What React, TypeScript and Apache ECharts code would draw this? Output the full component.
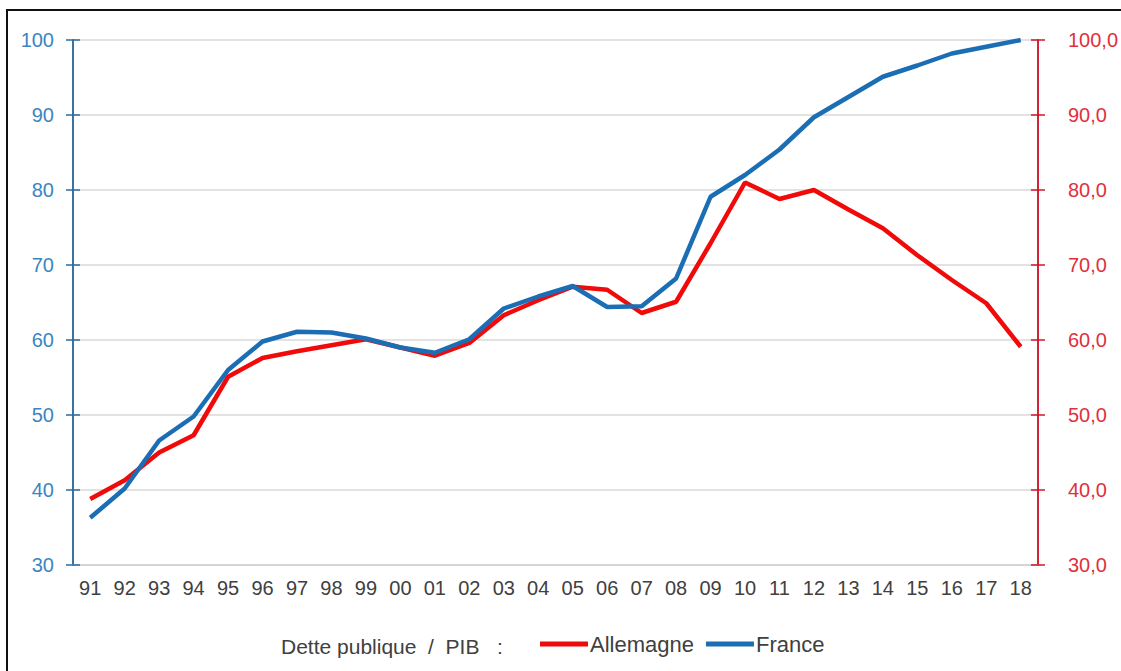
import React, { useEffect, useRef } from "react";
import * as echarts from "echarts";

const years = ["91","92","93","94","95","96","97","98","99","00","01","02","03","04","05","06","07","08","09","10","11","12","13","14","15","16","17","18"];
const france = [36.3, 40.2, 46.6, 49.8, 56.0, 59.8, 61.1, 61.0, 60.2, 59.0, 58.3, 60.1, 64.2, 65.8, 67.2, 64.4, 64.5, 68.2, 79.1, 82.0, 85.4, 89.7, 92.4, 95.1, 96.6, 98.2, 99.1, 100.0];
const allemagne = [38.8, 41.3, 45.0, 47.3, 55.1, 57.6, 58.5, 59.3, 60.1, 59.0, 57.9, 59.6, 63.3, 65.3, 67.1, 66.7, 63.6, 65.1, 72.9, 81.0, 78.8, 80.0, 77.4, 74.9, 71.3, 68.0, 64.9, 59.1];
const yMin = 30;
const yMax = 100;
const yStep = 10;
const legendTitle = "Dette publique  /  PIB   :";

const FONT = "'Liberation Sans', Arial, sans-serif";
const BLUE_LINE = "#1B6DB4";
const RED_LINE = "#F00A0A";
const BLUE_AXIS = "#2C6A9C";
const RED_AXIS = "#D0142A";

export default function App() {
  const ref = useRef<HTMLDivElement>(null);
  useEffect(() => {
    if (!ref.current) return;
    const chart = echarts.init(ref.current, null, { renderer: "svg" });
    const baseY = {
      type: "value",
      min: yMin,
      max: yMax,
      interval: yStep,
    };
    chart.setOption({
      animation: false,
      backgroundColor: "#ffffff",
      grid: { left: 73, right: 76, top: 40, bottom: 106 },
      graphic: [
        {
          type: "rect",
          shape: { x: 7, y: 10, width: 1300, height: 800 },
          style: { fill: "none", stroke: "#111", lineWidth: 2 },
          silent: true,
          z: 100,
        },
        {
          type: "text",
          left: 281,
          top: 636,
          style: { text: legendTitle, font: `21px ${FONT}`, fill: "#404040" },
        },
      ],
      legend: {
        left: 535,
        top: 628,
        itemWidth: 48,
        itemHeight: 5,
        itemGap: 12,
        icon: "rect",
        data: ["Allemagne", "France"],
        textStyle: { fontFamily: FONT, fontSize: 22, color: "#404040", padding: [0, 0, 0, -3] },
      },
      xAxis: {
        type: "category",
        data: years,
        boundaryGap: true,
        axisLine: { lineStyle: { color: "#D0D0D0", width: 1.5 } },
        axisTick: { inside: true, length: 4, lineStyle: { color: "#C8C8C8" } },
        axisLabel: { fontFamily: FONT, fontSize: 20, color: "#404040", margin: 13 },
      },
      yAxis: [
        {
          ...baseY,
          position: "left",
          axisLine: { show: true, lineStyle: { color: BLUE_AXIS, width: 1.5 } },
          axisTick: { show: true, length: 7, lineStyle: { color: BLUE_AXIS, width: 1.5 } },
          axisLabel: { fontFamily: FONT, fontSize: 20, color: "#3A86C2", margin: 19 },
          splitLine: { show: true, lineStyle: { color: "#D8D8D8", width: 1.5 } },
        },
        {
          ...baseY,
          position: "right",
          axisLine: { show: true, lineStyle: { color: RED_AXIS, width: 1.5 } },
          axisTick: { show: true, length: 7, lineStyle: { color: RED_AXIS, width: 1.5 } },
          axisLabel: {
            fontFamily: FONT,
            fontSize: 20,
            color: "#E0303C",
            margin: 30,
            formatter: (v: number) => v.toFixed(1).replace(".", ","),
          },
          splitLine: { show: false },
        },
        {
          ...baseY,
          position: "left",
          axisLine: { show: true, lineStyle: { color: BLUE_AXIS, width: 1.5 } },
          axisTick: { show: true, inside: true, length: 7, lineStyle: { color: BLUE_AXIS, width: 1.5 } },
          axisLabel: { show: false },
          splitLine: { show: false },
        },
        {
          ...baseY,
          position: "right",
          axisLine: { show: true, lineStyle: { color: RED_AXIS, width: 1.5 } },
          axisTick: { show: true, inside: true, length: 7, lineStyle: { color: RED_AXIS, width: 1.5 } },
          axisLabel: { show: false },
          splitLine: { show: false },
        },
      ],
      series: [
        {
          name: "Allemagne",
          type: "line",
          yAxisIndex: 1,
          data: allemagne,
          showSymbol: false,
          symbol: "none",
          itemStyle: { color: RED_LINE },
          lineStyle: { color: RED_LINE, width: 4.5 },
          z: 2,
        },
        {
          name: "France",
          type: "line",
          yAxisIndex: 0,
          data: france,
          showSymbol: false,
          symbol: "none",
          itemStyle: { color: BLUE_LINE },
          lineStyle: { color: BLUE_LINE, width: 4.5 },
          z: 3,
        },
      ],
    });
    return () => chart.dispose();
  }, []);
  return (
    <div
      ref={ref}
      style={{ position: "fixed", left: 0, top: 0, width: 1121, height: 671, background: "#fff" }}
    />
  );
}
